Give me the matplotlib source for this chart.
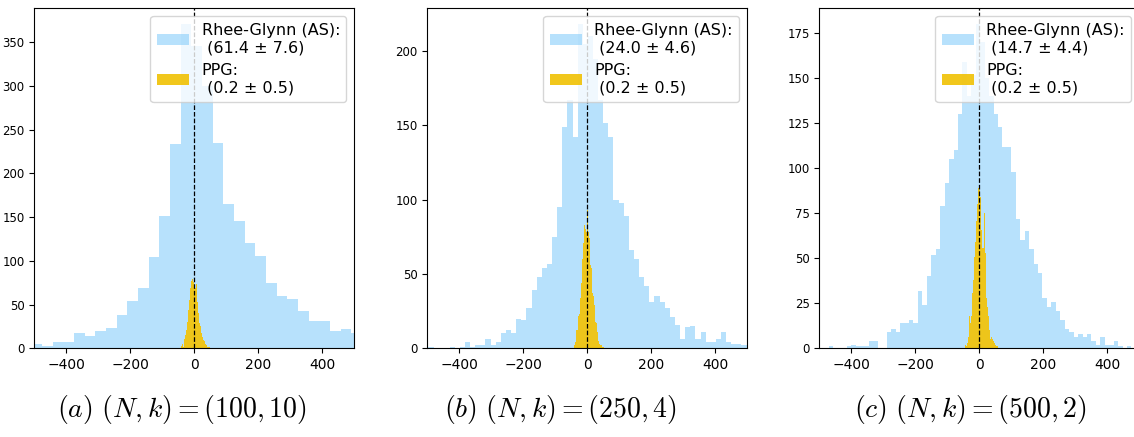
import numpy as np
import matplotlib.pyplot as plt

plt.rcParams['mathtext.fontset'] = 'cm'

# panel captions and legend numbers
captions = [r'$\mathit{(a)}\ (N, k) = (100, 10)$',
            r'$\mathit{(b)}\ (N, k) = (250, 4)$',
            r'$\mathit{(c)}\ (N, k) = (500, 2)$']
rg_labels = ['Rhee-Glynn (AS):\n (61.4 \u00b1 7.6)',
             'Rhee-Glynn (AS):\n (24.0 \u00b1 4.6)',
             'Rhee-Glynn (AS):\n (14.7 \u00b1 4.4)']
ppg_labels = ['PPG:\n (0.2 \u00b1 0.5)'] * 3

# Rhee-Glynn histograms: first bin edge, bin width, counts
rg_start = [-509.4, -510.2, -511.5]
rg_width = [33.33, 16.0, 13.9]
rg_counts_a = [5, 3, 7, 7, 17, 14, 20, 23, 38, 54, 69, 104, 151, 234, 370,
               345, 300, 235, 165, 146, 120, 106, 75, 60, 56, 43, 31, 31, 20, 22, 18]
rg_counts_b = [1, 1, 0, 0, 0, 1, 0, 1, 4, 1, 2, 2, 6, 2, 4, 10, 12, 10, 20, 19,
               27, 39, 48, 54, 57, 75, 95, 149, 167, 142, 218, 205,
               210, 195, 167, 152, 142, 100, 98, 89, 66, 60, 48, 42, 31, 35, 31, 27,
               21, 16, 6, 14, 15, 6, 11, 4, 4, 6, 11, 4, 3, 3, 2, 4]
rg_counts_c = [0, 0, 0, 1, 0, 0, 0, 1, 2, 1, 1, 1, 4, 4, 0, 0, 9, 11, 9, 14,
               14, 16, 14, 32, 24, 40, 52, 55, 79, 92, 105, 110, 130, 159, 140,
               152, 180, 170, 150, 140, 130, 123, 112, 112, 98, 72, 60, 65, 55, 47,
               42, 28, 23, 26, 21, 16, 11, 9, 6, 8, 6, 8, 4, 2, 6, 2, 2, 4, 1, 0, 1, 0]

# PPG histograms
ppg_start = [-43.0, -41.7, -44.8]
ppg_width = [3.03, 3.12, 3.12]
ppg_counts_a = [3, 5, 1, 6, 11, 15, 21, 30, 44, 55, 69, 77, 79, 76, 71, 69, 74,
                53, 40, 29, 25, 17, 13, 10, 8, 5, 4, 2, 1, 1]
ppg_counts_b = [2, 4, 12, 12, 22, 23, 34, 44, 60, 71, 83, 80, 78, 93, 78, 74, 56,
                54, 37, 35, 29, 18, 17, 11, 5, 3, 2, 2, 1, 1]
ppg_counts_c = [2, 1, 3, 6, 18, 14, 18, 31, 38, 51, 59, 71, 80, 89, 88, 84, 66,
                56, 56, 75, 53, 28, 23, 18, 10, 5, 6, 5, 4, 3, 2, 1, 1]

rg_counts = [rg_counts_a, rg_counts_b, rg_counts_c]
ppg_counts = [ppg_counts_a, ppg_counts_b, ppg_counts_c]

blue = '#87CEFA'
yellow = '#F1C40F'

fig = plt.figure(figsize=(11.34, 4.37), dpi=100)
lefts = [0.0303, 0.3768, 0.7225]
cap_x = [0.16, 0.494, 0.856]

for i in range(3):
    ax = fig.add_axes([lefts[i], 0.203, 0.2822, 0.778])
    e1 = rg_start[i] + rg_width[i] * np.arange(len(rg_counts[i]) + 1)
    ax.hist(e1[:-1], bins=e1, weights=rg_counts[i], color=blue, alpha=0.6,
            label=rg_labels[i])
    e2 = ppg_start[i] + ppg_width[i] * np.arange(len(ppg_counts[i]) + 1)
    ax.hist(e2[:-1], bins=e2, weights=ppg_counts[i], color=yellow, alpha=0.95,
            label=ppg_labels[i])
    ax.axvline(0, color='black', linestyle='--', linewidth=0.9)
    ax.set_xlim(-500, 500)
    ax.set_xticks([-400, -200, 0, 200, 400])
    ax.tick_params(axis='x', labelsize=10)
    ax.tick_params(axis='y', labelsize=8.5)
    ax.legend(loc='upper right', fontsize=11.5)
    fig.text(cap_x[i], 0.062, captions[i], ha='center', va='center', fontsize=20)

fig.savefig('out.png', dpi=100)
